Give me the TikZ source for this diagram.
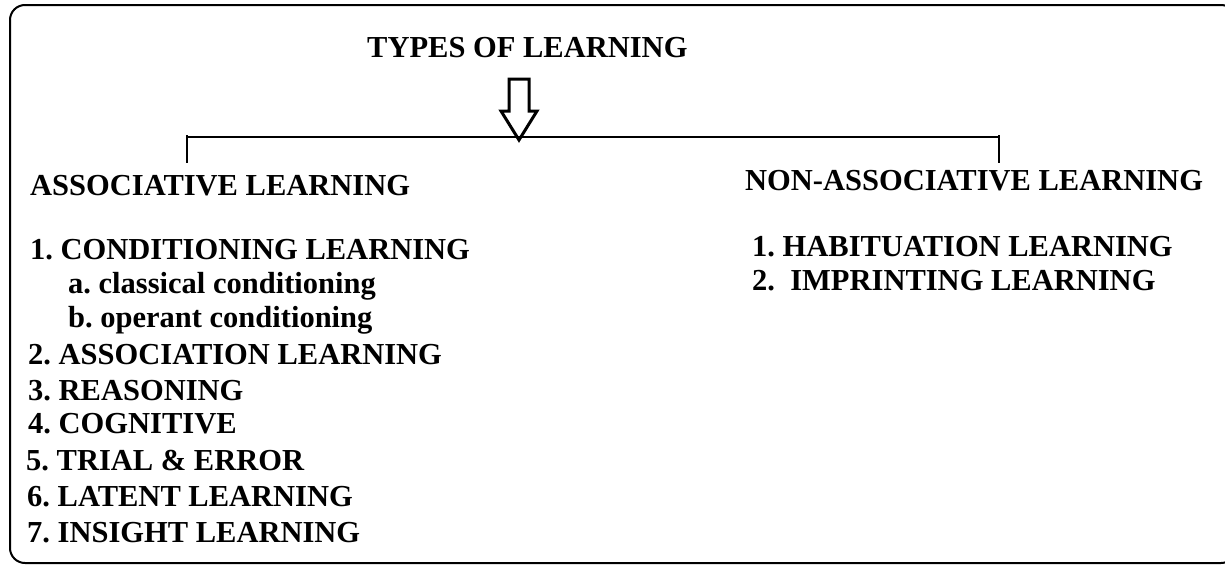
\documentclass[tikz,border=0pt]{standalone}
\usepackage{fontspec}
\setmainfont{Liberation Serif}
\usepackage{tikz}
\frenchspacing

\tikzset{
  item/.style={anchor=base west, inner sep=0pt,
    font=\bfseries\fontsize{30.5}{36}\selectfont},
}

\begin{document}
\begin{tikzpicture}[x=1pt,y=-1pt]

\useasboundingbox (0,0) rectangle (1225,565);
\clip (0,0) rectangle (1225,565);

\draw[line width=2pt, rounded corners=15pt] (10,5) rectangle (1236,563); % frame

\node[item] (title) at (367,57) {TYPES OF LEARNING};

% open arrow
\draw[line width=3pt, line join=miter]
  (509,79) -- (529,79) -- (529,111) -- (537,111) -- (519,140)
  -- (501,111) -- (509,111) -- cycle;

% bracket
\coordinate (brl) at (187,137);
\coordinate (brr) at (999,137);
\draw[line width=2.5pt] (brl) -- (brr);
\draw[line width=2.5pt] (brl) ++(0,-2) -- ++(0,28);
\draw[line width=2.5pt] (brr) ++(0,-2) -- ++(0,28);

\node[item] (assoc) at (30,195) {ASSOCIATIVE LEARNING};
\node[item] (nonassoc) at (745,190) {NON-ASSOCIATIVE LEARNING};

% associative
\node[item] (a1) at (30,259) {1. CONDITIONING LEARNING};
\node[item] (a1a) at (68,293) {a. classical conditioning};
\node[item] (a1b) at (68,327) {b. operant conditioning};
\node[item] (a2) at (28,364) {2. ASSOCIATION LEARNING};
\node[item] (a3) at (28,400) {3. REASONING};
\node[item] (a4) at (28,433) {4. COGNITIVE};
\node[item] (a5) at (26,470) {5. TRIAL \& ERROR};
\node[item] (a6) at (27,506) {6. LATENT LEARNING};
\node[item] (a7) at (27,542) {7. INSIGHT LEARNING};

% non-associative
\node[item] (n1) at (752,256) {1. HABITUATION LEARNING};
\node[item] (n2) at (752,290) {2.~~IMPRINTING LEARNING};

\end{tikzpicture}
\end{document}
